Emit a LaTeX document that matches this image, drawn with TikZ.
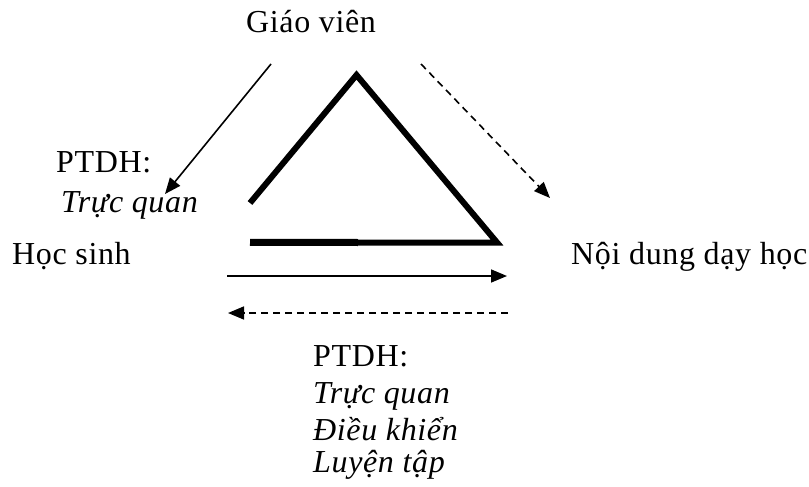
\documentclass[tikz,border=0pt]{standalone}
\usepackage{fontspec}
\setmainfont{Liberation Serif}[LetterSpace=2.0]
\usetikzlibrary{arrows.meta}
\begin{document}
\begin{tikzpicture}[x=1pt,y=-1pt,
  lbl/.style={anchor=base west,inner sep=0pt,font=\fontsize{32}{36}\selectfont},
  ilbl/.style={lbl,font=\fontsize{32}{36}\selectfont\itshape},
  arr/.style={line width=1.6pt,-{Triangle[length=16pt,width=13pt]}},
  darr/.style={arr,dash pattern=on 7pt off 5pt},
  tri/.style={line width=6pt,miter limit=10}]
\useasboundingbox (0,0) rectangle (809,487);
% labels
\node[lbl] (gv) at (246,33) {Giáo viên};
\node[lbl] (hs) at (12,264) {Học sinh};
\node[lbl] (nd) at (571,264) {Nội dung dạy học};
\node[lbl] (pt1) at (56,172) {PTDH:};
\node[ilbl] (tq1) at (61,212) {Trực quan};
\node[lbl] (pt2) at (313,366) {PTDH:};
\node[ilbl] (tq2) at (313,403) {Trực quan};
\node[ilbl] (dk) at (313,440) {Điều khiển};
\node[ilbl] (lt) at (313,472) {Luyện tập};
% triangle
\coordinate (tl) at (250,203);
\coordinate (ta) at (356.5,75);
\coordinate (tr) at (497,242.5);
\coordinate (tm) at (358,242.5);
\coordinate (tb) at (250,242.3);
\draw[tri] (tl) -- (ta) -- (tr) -- (tm);
\draw[line width=7pt] (tm) -- (tb);
% arrows
\coordinate (a1s) at (271,64);
\coordinate (a1e) at (165,194);
\coordinate (a2s) at (421,64);
\coordinate (a2e) at (550,198);
\coordinate (a3s) at (227,276);
\coordinate (a3e) at (507,276);
\coordinate (a4s) at (508,313);
\coordinate (a4e) at (228,313);
\draw[arr] (a1s) -- (a1e);
\draw[darr] (a2s) -- (a2e);
\draw[arr] (a3s) -- (a3e);
\draw[darr] (a4s) -- (a4e);
\end{tikzpicture}
\end{document}
